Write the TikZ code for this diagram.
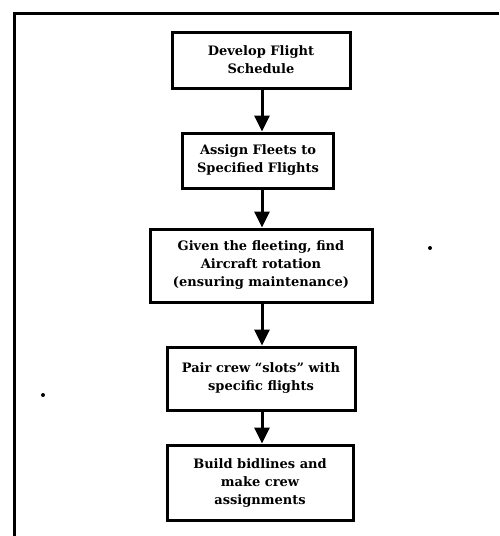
\documentclass[tikz,border=0pt]{standalone}
\usepackage{fontspec}
\setmainfont{DejaVu Serif}
\usetikzlibrary{arrows.meta}
\begin{document}
\begin{tikzpicture}[x=1pt,y=-1pt,
  stepbox/.style={draw,line width=3pt,align=center,inner sep=2pt,
    font=\fontsize{13}{18}\selectfont\bfseries},
  flow/.style={line width=3pt,-{Triangle[width=15pt,length=16pt]}}]
  \useasboundingbox (0,0) rectangle (499,536);
  \fill[white] (0,0) rectangle (499,536);
  % open frame: left and top edges only
  \draw[line width=3pt] (14,536) -- (14,13) -- (499,13);
  % process boxes
  \node[stepbox,minimum width=178pt,minimum height=56pt] (s1) at (261,60)
    {Develop Flight\\Schedule};
  \node[stepbox,minimum width=151pt,minimum height=55pt] (s2) at (258,160.5)
    {Assign Fleets to\\Specified Flights};
  \node[stepbox,minimum width=222pt,minimum height=73pt] (s3) at (261,265.5)
    {Given the fleeting, find\\Aircraft rotation\\(ensuring maintenance)};
  \node[stepbox,minimum width=188pt,minimum height=63pt] (s4) at (261,378.5)
    {Pair crew “slots” with\\specific flights};
  \node[stepbox,minimum width=186pt,minimum height=75pt] (s5) at (260,482.5)
    {Build bidlines and\\make crew\\assignments};
  % connectors
  \draw[flow] (s1.south -| 262,0) -- (s2.north -| 262,0);
  \draw[flow] (s2.south -| 262,0) -- (s3.north -| 262,0);
  \draw[flow] (s3.south -| 262,0) -- (s4.north -| 262,0);
  \draw[flow] (s4.south -| 262,0) -- (s5.north -| 262,0);
  % specks
  \fill (430,248) circle (2pt);
  \fill (43,395) circle (2pt);
\end{tikzpicture}
\end{document}
